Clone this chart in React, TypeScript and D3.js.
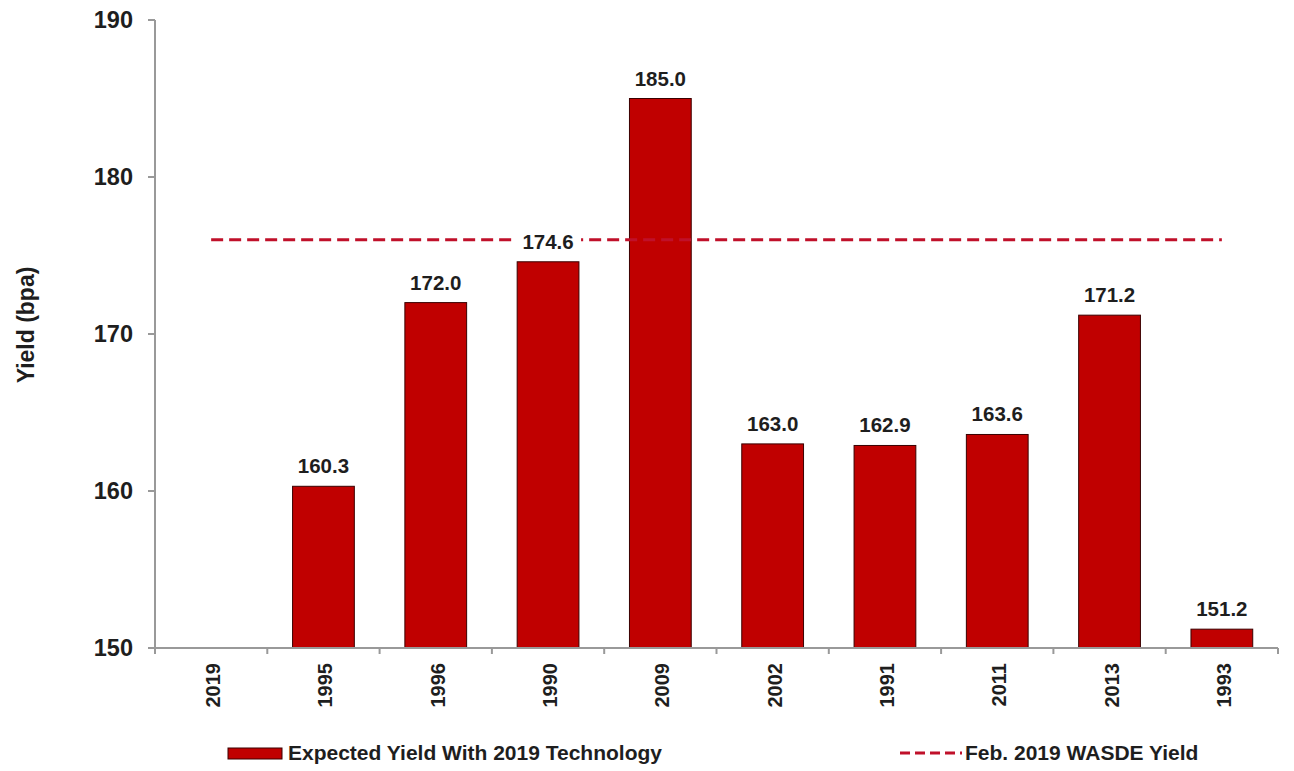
import React from "react";
import * as d3 from "d3";

const categories = ["2019", "1995", "1996", "1990", "2009", "2002", "1991", "2011", "2013", "1993"];
const yieldValues: (number | null)[] = [null, 160.3, 172.0, 174.6, 185.0, 163.0, 162.9, 163.6, 171.2, 151.2];
const wasdeYield = 176.0;
const yTicks = [150, 160, 170, 180, 190];

const W = 1294, H = 771;
const M = { left: 155, right: 1278, top: 20, bottom: 648 };
const FONT = "'Liberation Sans', Arial, sans-serif";
const BAR = "#C00000";
const LINE = "#C0102A";
const TXT = "#1e1e1e";

export default function App() {
  const x = d3.scaleBand<string>().domain(categories).range([M.left, M.right]).paddingInner(0.45).paddingOuter(0.225);
  const xc = d3.scaleBand<string>().domain(categories).range([M.left, M.right]);
  const y = d3.scaleLinear().domain([150, 190]).range([M.bottom, M.top]);
  const lineY = y(wasdeYield);
  const first = xc(categories[0])! + xc.bandwidth() / 2;
  const last = xc(categories[categories.length - 1])! + xc.bandwidth() / 2;
  const label174 = categories[3];

  return (
    <svg width={W} height={H} style={{ position: "absolute", left: 0, top: 0, background: "#fff" }} fontFamily={FONT}>
      <rect x={0} y={0} width={W} height={H} fill="#fff" />
      {categories.map((c, i) => {
        const v = yieldValues[i];
        if (v == null) return null;
        return (
          <rect key={c} x={x(c)} y={y(v)} width={x.bandwidth()} height={y(150) - y(v)} fill={BAR} stroke="#3a0000" strokeWidth={1} />
        );
      })}
      <line x1={first} x2={last} y1={lineY} y2={lineY} stroke={LINE} strokeWidth={3} strokeDasharray="12 6" />
      {categories.map((c, i) => {
        const v = yieldValues[i];
        if (v == null) return null;
        const cx = x(c)! + x.bandwidth() / 2;
        const ty = y(v) - 13;
        return (
          <g key={c}>
            {c === label174 && <rect x={cx - 33} y={ty - 18} width={66} height={22} fill="#fff" />}
            <text x={cx} y={ty} textAnchor="middle" fontSize={20.5} fontWeight="bold" fill={TXT}>
              {v.toFixed(1)}
            </text>
          </g>
        );
      })}
      <line x1={M.left} x2={M.left} y1={M.top} y2={M.bottom} stroke="#999" strokeWidth={2} />
      <line x1={M.left - 7} x2={M.right} y1={M.bottom} y2={M.bottom} stroke="#999" strokeWidth={2} />
      {yTicks.map((t) => (
        <g key={t}>
          <line x1={M.left - 7} x2={M.left} y1={y(t)} y2={y(t)} stroke="#999" strokeWidth={2} />
          <text x={133} y={y(t) + 8} textAnchor="end" fontSize={23.5} fontWeight="bold" fill={TXT}>
            {t}
          </text>
        </g>
      ))}
      {categories.map((c) => (
        <line key={"t" + c} x1={xc(c)!} x2={xc(c)!} y1={M.bottom} y2={M.bottom + 6} stroke="#999" strokeWidth={2} />
      ))}
      <line x1={M.right} x2={M.right} y1={M.bottom} y2={M.bottom + 6} stroke="#999" strokeWidth={2} />
      {categories.map((c) => {
        const cx = xc(c)! + xc.bandwidth() / 2;
        return (
          <text key={"l" + c} transform={`translate(${cx + 9},${663}) rotate(-90)`} textAnchor="end" fontSize={20} fontWeight="bold" fill={TXT}>
            {c}
          </text>
        );
      })}
      <text transform={`translate(34,${325}) rotate(-90)`} textAnchor="middle" fontSize={23} fontWeight="bold" fill={TXT}>
        Yield (bpa)
      </text>
      <rect x={228} y={748} width={54} height={11} fill={BAR} stroke="#3a0000" strokeWidth={1} />
      <text x={288} y={760} fontSize={21} fontWeight="bold" fill={TXT}>Expected Yield With 2019 Technology</text>
      <line x1={900} x2={962} y1={753} y2={753} stroke={LINE} strokeWidth={3} strokeDasharray="10 5" />
      <text x={965} y={760} fontSize={21} fontWeight="bold" fill={TXT}>Feb. 2019 WASDE Yield</text>
    </svg>
  );
}
